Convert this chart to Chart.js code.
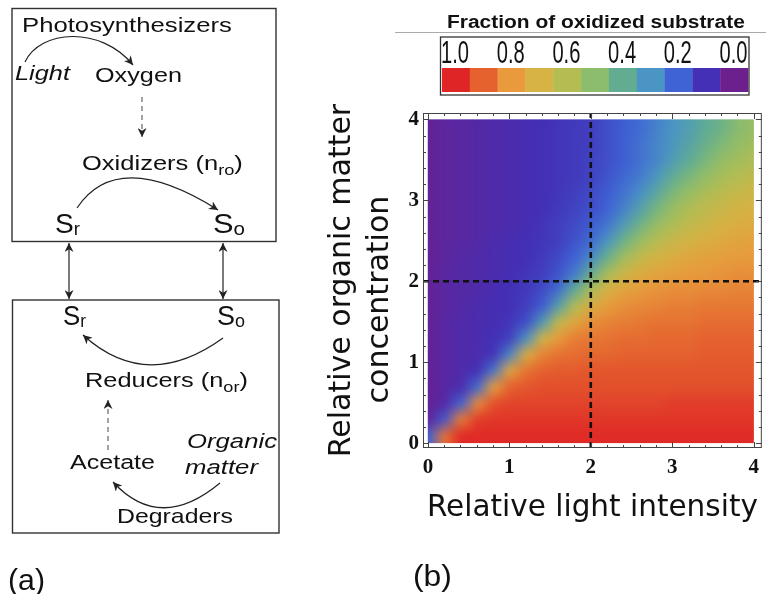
<!DOCTYPE html>
<html>
<head>
<meta charset="utf-8">
<script src="https://cdn.jsdelivr.net/npm/chart.js@4.4.0/dist/chart.umd.min.js"></script>
<style>
  html, body { margin: 0; padding: 0; background: #fff; }
  #wrap { position: relative; width: 766px; height: 594px; overflow: hidden; }
  #chart, #diagram { position: absolute; left: 0; top: 0; }
  #diagram text { font-family: 'Liberation Sans', Arial, sans-serif; fill: #111; }
</style>
</head>
<body>
<div id="wrap">
<canvas id="chart" width="766" height="594"></canvas>
<svg id="diagram" width="766" height="594" xmlns="http://www.w3.org/2000/svg">
  <defs>
    <marker id="ah" viewBox="0 0 10 10" refX="10" refY="5" markerWidth="9" markerHeight="9"
            markerUnits="userSpaceOnUse" orient="auto-start-reverse">
      <path d="M0,0 L10,5 L0,10 L3,5 z" fill="#222"/>
    </marker>
  </defs>

  <!-- (a) boxes -->
  <g fill="none" stroke="#333" stroke-width="1.4">
    <rect x="12" y="8.5" width="264" height="233"/>
    <rect x="12.5" y="300" width="266.5" height="233"/>
  </g>

  <!-- (a) arrows -->
  <g fill="none" stroke="#222" stroke-width="1.2">
    <path d="M25,62 C40,30 100,25 133,65" marker-end="url(#ah)"/>
    <path d="M142,97 L142,137" stroke="#666" stroke-dasharray="5,4" marker-end="url(#ah)"/>
    <path d="M77,208 Q118,147 218,210" marker-end="url(#ah)"/>
    <path d="M69,243 L69,299" marker-start="url(#ah)" marker-end="url(#ah)"/>
    <path d="M223,243 L223,299" marker-start="url(#ah)" marker-end="url(#ah)"/>
    <path d="M223,338 Q147,393 83,335" marker-end="url(#ah)"/>
    <path d="M108,450 L108,400" stroke="#666" stroke-dasharray="5,4" marker-end="url(#ah)"/>
    <path d="M220,483 Q160,533 113,482" marker-end="url(#ah)"/>
  </g>

  <!-- (a) labels -->
  <text data-x="22" data-y="32" data-w="210" font-size="20">Photosynthesizers</text>
  <text data-x="15" data-y="80" data-w="55" font-size="20" font-style="italic">Light</text>
  <text data-x="95" data-y="82" data-w="87" font-size="21">Oxygen</text>
  <text data-x="82" data-y="170" data-w="161" font-size="21">Oxidizers (n<tspan font-size="15" dy="5">ro</tspan><tspan dy="-5">)</tspan></text>
  <text data-x="55" data-y="233" data-w="25" font-size="27">S<tspan font-size="18" dy="2">r</tspan></text>
  <text data-x="213" data-y="233" data-w="32" font-size="27">S<tspan font-size="18" dy="2">o</tspan></text>
  <text data-x="63" data-y="325" data-w="23" font-size="27">S<tspan font-size="18" dy="2">r</tspan></text>
  <text data-x="217" data-y="325" data-w="28" font-size="27">S<tspan font-size="18" dy="2">o</tspan></text>
  <text data-x="85" data-y="387" data-w="163" font-size="21">Reducers (n<tspan font-size="15" dy="5">or</tspan><tspan dy="-5">)</tspan></text>
  <text data-x="187" data-y="448" data-w="90" font-size="21" font-style="italic">Organic</text>
  <text data-x="70" data-y="469" data-w="85" font-size="21">Acetate</text>
  <text data-x="185" data-y="474" data-w="73" font-size="21" font-style="italic">matter</text>
  <text data-x="117" data-y="523" data-w="116" font-size="21">Degraders</text>
  <text data-x="8" data-y="590" data-w="37" font-size="30">(a)</text>
  <text data-x="413" data-y="586" data-w="39" font-size="30">(b)</text>

  <!-- (b) colour legend -->
  <line x1="395" y1="32.5" x2="766" y2="32.5" stroke="#aaa" stroke-width="1"/>
  <text data-x="447" data-y="28" data-w="298" font-size="18" font-weight="bold">Fraction of oxidized substrate</text>
  <g id="colorbar"></g>
  <rect x="440.5" y="37" width="308.5" height="58" fill="none" stroke="#333" stroke-width="1.3"/>
</svg>
</div>

<script>
// ---- data ----
// sample positions: light intensity (x, columns) and organic matter (y, rows)
const lightLevels   = [0, 0.2, 0.4, 0.6, 0.8, 1.0, 1.2, 1.4, 1.6, 1.8, 2.0, 2.2, 2.4, 2.6, 2.8, 3.0, 3.2, 3.4, 3.6, 3.8, 4.0];
const organicLevels = [0.1, 0.3, 0.5, 0.7, 0.9, 1.1, 1.3, 1.5, 1.7, 1.9, 2.1, 2.3, 2.5, 2.7, 2.9, 3.1, 3.3, 3.5, 3.7, 3.9];

// fraction of oxidized substrate, one row per organic level (bottom row first)
const oxidizedFraction = [
  [0.20,0.87,0.99,0.99,0.99,0.99,0.99,0.99,0.99,0.99,0.99,0.99,0.99,0.99,0.99,0.99,0.99,0.99,0.99,0.99,0.99],
  [0.03,0.18,0.85,0.96,0.97,0.97,0.97,0.97,0.97,0.97,0.97,0.97,0.97,0.97,0.97,0.97,0.97,0.97,0.97,0.97,0.97],
  [0.02,0.06,0.20,0.82,0.93,0.95,0.95,0.95,0.95,0.95,0.95,0.95,0.95,0.95,0.95,0.96,0.96,0.96,0.96,0.96,0.96],
  [0.02,0.05,0.08,0.22,0.78,0.90,0.92,0.93,0.93,0.93,0.93,0.93,0.93,0.93,0.93,0.93,0.93,0.93,0.93,0.93,0.93],
  [0.02,0.05,0.07,0.10,0.24,0.75,0.87,0.90,0.91,0.91,0.92,0.92,0.92,0.92,0.92,0.92,0.92,0.92,0.92,0.92,0.92],
  [0.02,0.05,0.07,0.08,0.11,0.27,0.72,0.84,0.87,0.88,0.89,0.89,0.90,0.90,0.90,0.90,0.90,0.91,0.91,0.91,0.91],
  [0.02,0.05,0.07,0.08,0.10,0.13,0.30,0.68,0.80,0.85,0.86,0.87,0.88,0.88,0.89,0.89,0.89,0.90,0.90,0.90,0.90],
  [0.02,0.05,0.07,0.08,0.09,0.11,0.16,0.33,0.64,0.76,0.82,0.84,0.85,0.86,0.87,0.87,0.87,0.88,0.88,0.88,0.88],
  [0.02,0.05,0.06,0.08,0.09,0.10,0.13,0.19,0.36,0.60,0.73,0.79,0.82,0.83,0.84,0.85,0.85,0.86,0.86,0.86,0.86],
  [0.02,0.05,0.06,0.07,0.09,0.10,0.12,0.15,0.22,0.39,0.58,0.70,0.76,0.79,0.81,0.82,0.82,0.83,0.83,0.84,0.84],
  [0.02,0.05,0.06,0.07,0.08,0.09,0.11,0.13,0.17,0.25,0.41,0.57,0.67,0.73,0.76,0.78,0.80,0.80,0.81,0.82,0.82],
  [0.02,0.04,0.06,0.07,0.08,0.09,0.10,0.12,0.15,0.20,0.28,0.42,0.55,0.64,0.69,0.72,0.75,0.77,0.78,0.79,0.80],
  [0.02,0.04,0.05,0.06,0.08,0.09,0.10,0.11,0.13,0.17,0.22,0.31,0.43,0.54,0.61,0.66,0.69,0.72,0.74,0.76,0.77],
  [0.02,0.04,0.05,0.06,0.07,0.08,0.09,0.11,0.13,0.15,0.19,0.24,0.33,0.44,0.53,0.59,0.64,0.67,0.70,0.72,0.73],
  [0.02,0.04,0.05,0.06,0.07,0.08,0.09,0.10,0.12,0.14,0.16,0.20,0.26,0.35,0.45,0.53,0.59,0.63,0.66,0.69,0.70],
  [0.02,0.04,0.05,0.06,0.07,0.08,0.09,0.10,0.11,0.13,0.15,0.19,0.23,0.29,0.37,0.46,0.53,0.58,0.62,0.65,0.68],
  [0.02,0.04,0.05,0.06,0.07,0.08,0.09,0.10,0.11,0.12,0.14,0.17,0.21,0.25,0.31,0.39,0.46,0.52,0.57,0.60,0.63],
  [0.02,0.04,0.05,0.06,0.07,0.08,0.09,0.10,0.11,0.12,0.14,0.16,0.19,0.23,0.27,0.33,0.39,0.46,0.52,0.56,0.59],
  [0.02,0.04,0.05,0.06,0.07,0.08,0.09,0.10,0.11,0.12,0.13,0.16,0.19,0.23,0.27,0.31,0.36,0.42,0.47,0.52,0.56],
  [0.02,0.04,0.05,0.06,0.07,0.08,0.09,0.10,0.11,0.12,0.13,0.16,0.19,0.22,0.26,0.30,0.34,0.39,0.43,0.49,0.53]
];

// colour key, from 1.0 (left) to 0.0 (right)
const palette = ['#df2526','#e5622f','#e89a3c','#d7b244','#b3bd52','#8cbd6c',
                 '#62ad92','#4b95c4','#3f63d5','#4330b6','#6e1f8e'];
const colorbarLabels = ['1.0', '0.8', '0.6', '0.4', '0.2', '0.0'];

const axisTicks  = [0, 1, 2, 3, 4];
const minorTicks = [0.2, 0.4, 0.6, 0.8, 1.2, 1.4, 1.6, 1.8, 2.2, 2.4, 2.6, 2.8, 3.2, 3.4, 3.6, 3.8];
const refLight = 2, refOrganic = 2;   // dashed guide lines
const xMin = -0.06, xMax = 4.1, yMin = -0.06, yMax = 4.08;

// ---- colour helpers ----
const hexRgb = h => [1, 3, 5].map(i => parseInt(h.substr(i, 2), 16));
const paletteRgb = palette.map(hexRgb);
function colorFor(v) {
  const t = Math.min(Math.max((1 - v) * (palette.length - 1), 0), palette.length - 1);
  const i = Math.min(Math.floor(t), palette.length - 2);
  const f = t - i;
  const a = paletteRgb[i], b = paletteRgb[i + 1];
  return [0, 1, 2].map(k => Math.round(a[k] + (b[k] - a[k]) * f));
}

// heat map samples, placed through the chart scales
const heatmapPlugin = {
  id: 'heatmap',
  beforeDatasetsDraw(chart) {
    const {ctx, scales: {x, y}} = chart;
    const nx = lightLevels.length, ny = organicLevels.length;
    const off = document.createElement('canvas');
    off.width = nx; off.height = ny;
    const octx = off.getContext('2d');
    const img = octx.createImageData(nx, ny);
    for (let j = 0; j < ny; j++) {
      for (let i = 0; i < nx; i++) {
        const c = colorFor(oxidizedFraction[j][i]);
        const k = ((ny - 1 - j) * nx + i) * 4;
        img.data[k] = c[0]; img.data[k + 1] = c[1]; img.data[k + 2] = c[2]; img.data[k + 3] = 255;
      }
    }
    octx.putImageData(img, 0, 0);
    const hx = (lightLevels[1] - lightLevels[0]) / 2;
    const hy = (organicLevels[1] - organicLevels[0]) / 2;
    const left = x.getPixelForValue(lightLevels[0] - hx);
    const right = x.getPixelForValue(lightLevels[nx - 1] + hx);
    const top = y.getPixelForValue(organicLevels[ny - 1] + hy);
    const bottom = y.getPixelForValue(organicLevels[0] - hy);
    // the plotted domain runs from the first to the last light sample
    const clipL = x.getPixelForValue(lightLevels[0]);
    const clipR = x.getPixelForValue(lightLevels[nx - 1]);
    ctx.save();
    ctx.beginPath();
    ctx.rect(clipL, top, clipR - clipL, bottom - top);
    ctx.clip();
    ctx.imageSmoothingEnabled = true;
    ctx.drawImage(off, left, top, right - left, bottom - top);
    // soften the sampling grid a little
    ctx.filter = 'blur(3px)';
    ctx.drawImage(off, left, top, right - left, bottom - top);
    ctx.restore();
  }
};

// frame with inward ticks on all four sides
const framePlugin = {
  id: 'frame',
  afterDatasetsDraw(chart) {
    const {ctx, chartArea: a, scales: {x, y}} = chart;
    ctx.save();
    ctx.strokeStyle = '#444';
    ctx.lineWidth = 1;
    ctx.strokeRect(a.left + 0.5, a.top + 0.5, a.right - a.left - 1, a.bottom - a.top - 1);
    const mark = (vals, len) => {
      ctx.beginPath();
      vals.forEach(v => {
        const px = Math.round(x.getPixelForValue(v)) + 0.5;
        ctx.moveTo(px, a.bottom); ctx.lineTo(px, a.bottom - len);
        ctx.moveTo(px, a.top); ctx.lineTo(px, a.top + len);
        const py = Math.round(y.getPixelForValue(v)) + 0.5;
        ctx.moveTo(a.left, py); ctx.lineTo(a.left + len, py);
        ctx.moveTo(a.right, py); ctx.lineTo(a.right - len, py);
      });
      ctx.stroke();
    };
    mark(axisTicks, 6);
    mark(minorTicks, 3);
    ctx.restore();
  }
};

const tickFont = {family: "'Liberation Serif', 'Times New Roman', serif", weight: 'bold', size: 21};
const titleFont = {family: "'DejaVu Sans', sans-serif", size: 29.5};

new Chart(document.getElementById('chart'), {
  type: 'scatter',
  data: {
    datasets: [
      {data: [{x: refLight, y: yMin}, {x: refLight, y: yMax}], showLine: true,
       borderColor: '#111', borderWidth: 2.6, borderDash: [6, 4], pointRadius: 0},
      {data: [{x: xMin, y: refOrganic}, {x: xMax, y: refOrganic}], showLine: true,
       borderColor: '#111', borderWidth: 2.6, borderDash: [6, 4], pointRadius: 0}
    ]
  },
  options: {
    responsive: false,
    animation: false,
    layout: {padding: {left: 0, right: 3, top: 113, bottom: 0}},
    plugins: {legend: {display: false}, tooltip: {enabled: false}},
    scales: {
      x: {
        type: 'linear', min: xMin, max: xMax,
        afterBuildTicks: s => { s.ticks = axisTicks.map(v => ({value: v})); },
        afterFit: s => { s.height = 146; },
        grid: {display: false, drawTicks: false},
        border: {display: false},
        ticks: {padding: 7, color: '#111', font: tickFont, maxRotation: 0, autoSkip: false,
                callback: v => String(v)},
        title: {display: true, text: 'Relative light intensity', color: '#111',
                font: titleFont, padding: {top: 0, bottom: 68}}
      },
      y: {
        type: 'linear', min: yMin, max: yMax,
        afterBuildTicks: s => { s.ticks = axisTicks.map(v => ({value: v})); },
        afterFit: s => { s.width = 423; },
        grid: {display: false, drawTicks: false},
        border: {display: false},
        ticks: {padding: 4, color: '#111', font: tickFont, autoSkip: false,
                callback: v => String(v)},
        title: {display: true, text: ['Relative organic matter', 'concentration    '], color: '#111',
                font: Object.assign({}, titleFont, {size: 30, lineHeight: 1.24}),
                padding: {top: 324, bottom: 0}}
      }
    }
  },
  plugins: [heatmapPlugin, framePlugin]
});

// ---- colour legend for (b) ----
const svgNS = 'http://www.w3.org/2000/svg';
const bar = document.getElementById('colorbar');
const barLeft = 442, barRight = 748, sw = (barRight - barLeft) / palette.length;
palette.forEach((c, i) => {
  const r = document.createElementNS(svgNS, 'rect');
  r.setAttribute('x', barLeft + i * sw);
  r.setAttribute('y', 68);
  r.setAttribute('width', sw + 0.3);
  r.setAttribute('height', 24);
  r.setAttribute('fill', c);
  bar.appendChild(r);
});
const labStep = (733.5 - 455) / (colorbarLabels.length - 1);
colorbarLabels.forEach((txt, i) => {
  const t = document.createElementNS(svgNS, 'text');
  t.textContent = txt;
  t.setAttribute('font-size', 32);
  t.dataset.x = 455 + i * labStep - 14;
  t.dataset.y = 62.5;
  t.dataset.w = 28;
  bar.appendChild(t);
});

// fit each diagram label to the width it has in the figure
document.querySelectorAll('#diagram text[data-w]').forEach(t => {
  const len = t.getComputedTextLength();
  const sx = len > 0 ? (+t.dataset.w) / len : 1;
  t.setAttribute('transform', `translate(${t.dataset.x},${t.dataset.y}) scale(${sx.toFixed(3)},1)`);
});
</script>
</body>
</html>
